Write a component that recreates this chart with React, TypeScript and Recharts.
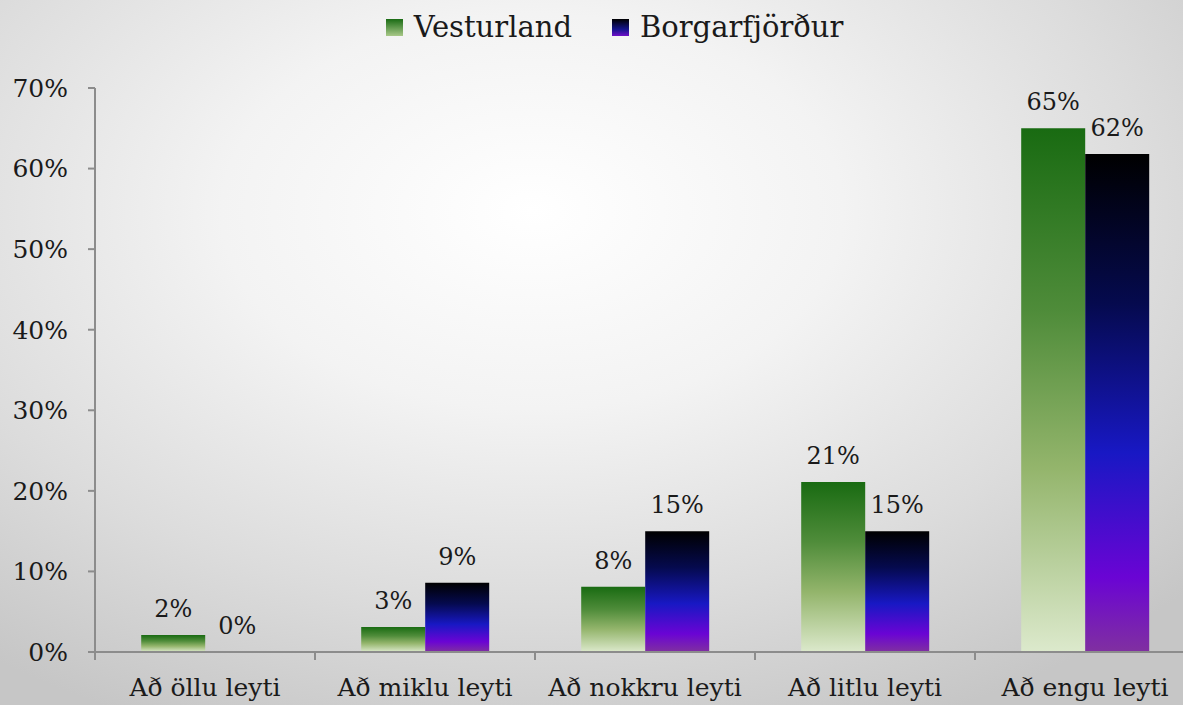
import React from 'react';
import { BarChart, Bar, XAxis, YAxis, Legend, LabelList } from 'recharts';

const categories = ['Að öllu leyti', 'Að miklu leyti', 'Að nokkru leyti', 'Að litlu leyti', 'Að engu leyti'];
const vesturland = [2.1, 3.1, 8.1, 21.1, 65];
const borgarfjordur = [0, 8.6, 15, 15, 61.8];
const yTicks = [0, 10, 20, 30, 40, 50, 60, 70];

const data = categories.map((c, i) => ({
  name: c,
  vesturland: vesturland[i],
  borgarfjordur: borgarfjordur[i],
}));

const FONT = '"DejaVu Serif", serif';
const TEXT = '#1a1a1a';
const AXIS = '#8c8c8c';

const CatTick = (props: any) => {
  const { x, y, payload } = props;
  const half = payload.offset || 0;
  return (
    <g>
      <line x1={x - half} x2={x - half} y1={y - 8} y2={y} stroke={AXIS} strokeWidth={2} />
      <line x1={x + half} x2={x + half} y1={y - 8} y2={y} stroke={AXIS} strokeWidth={2} />
      <text x={x} y={y + 36} textAnchor="middle" fill={TEXT} fontSize={25} fontFamily={FONT}>
        {payload.value}
      </text>
    </g>
  );
};

const renderLabel = (props: any) => {
  const { x, y, width, value } = props;
  return (
    <text x={x + width / 2} y={y - 18} textAnchor="middle" fill={TEXT} fontSize={24} fontFamily={FONT}>
      {`${Math.round(value)}%`}
    </text>
  );
};

const LegendBox = () => (
  <div style={{ display: 'flex', justifyContent: 'center', alignItems: 'center', height: 40, paddingLeft: 34, fontFamily: FONT, fontSize: 29, color: TEXT }}>
    <span style={{ display: 'inline-block', width: 17, height: 17, background: 'linear-gradient(#1a6b14, #a8c888)', marginRight: 11 }} />
    <span style={{ marginRight: 40 }}>Vesturland</span>
    <span style={{ display: 'inline-block', width: 17, height: 17, background: 'linear-gradient(#000000, #14148c 60%, #7010c8)', marginRight: 11 }} />
    <span>Borgarfjörður</span>
  </div>
);

export default function App() {
  return (
    <div style={{ position: 'absolute', left: 0, top: 0, width: 1183, height: 705, overflow: 'hidden', background: 'radial-gradient(ellipse 75% 80% at 45% 30%, #ffffff 0%, #f3f3f3 35%, #dcdcdc 70%, #c6c6c6 100%)' }}>
      <BarChart
        width={1200}
        height={705}
        data={data}
        margin={{ top: 48, right: 5, left: 0, bottom: 0 }}
        barCategoryGap="21%"
        barGap={0}
      >
        <defs>
          <linearGradient id="gGreen" x1="0" y1="0" x2="0" y2="1">
            <stop offset="0%" stopColor="#196b12" />
            <stop offset="35%" stopColor="#4f8c3a" />
            <stop offset="65%" stopColor="#94b56c" />
            <stop offset="100%" stopColor="#dce9cc" />
          </linearGradient>
          <linearGradient id="gBlue" x1="0" y1="0" x2="0" y2="1">
            <stop offset="0%" stopColor="#000000" />
            <stop offset="30%" stopColor="#050a4e" />
            <stop offset="60%" stopColor="#1818c4" />
            <stop offset="85%" stopColor="#6a04d4" />
            <stop offset="100%" stopColor="#8030a0" />
          </linearGradient>
        </defs>
        <Legend verticalAlign="top" align="center" height={40} wrapperStyle={{ top: 7 }} content={<LegendBox />} />
        <XAxis
          dataKey="name"
          axisLine={{ stroke: AXIS, strokeWidth: 2 }}
          tickLine={false}
          tick={<CatTick />}
          height={53}
          interval={0}
        />
        <YAxis
          domain={[0, 70]}
          ticks={yTicks}
          width={95}
          tickFormatter={(v: number) => `${v}%`}
          axisLine={{ stroke: AXIS, strokeWidth: 2 }}
          tickLine={{ stroke: AXIS, strokeWidth: 2 }}
          tickSize={7}
          tickMargin={20}
          tick={{ fill: TEXT, fontSize: 25, fontFamily: FONT }}
        />
        <Bar dataKey="vesturland" fill="url(#gGreen)" isAnimationActive={false}>
          <LabelList dataKey="vesturland" content={renderLabel} />
        </Bar>
        <Bar dataKey="borgarfjordur" fill="url(#gBlue)" minPointSize={0.01} isAnimationActive={false}>
          <LabelList dataKey="borgarfjordur" content={renderLabel} />
        </Bar>
      </BarChart>
    </div>
  );
}
